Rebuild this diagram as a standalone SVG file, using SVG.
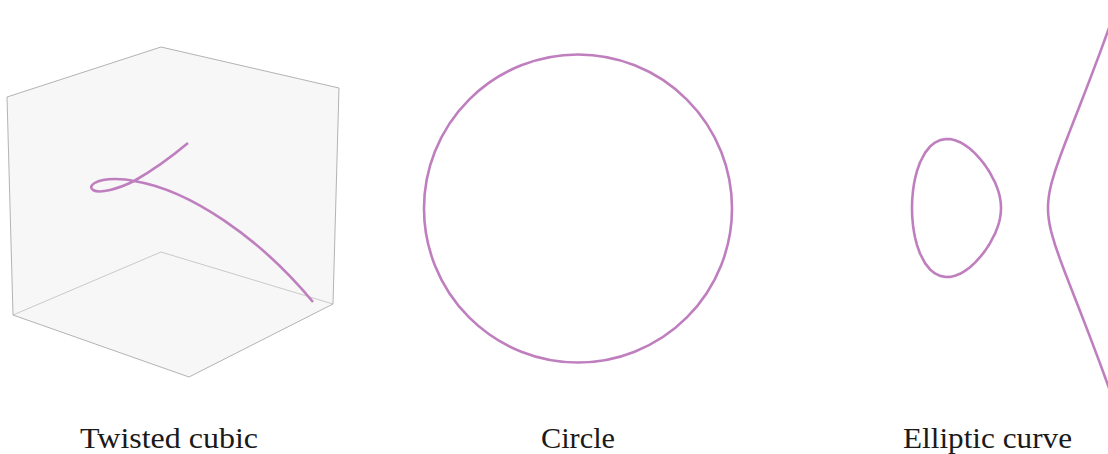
<svg xmlns="http://www.w3.org/2000/svg" width="1108" height="454" viewBox="0 0 1108 454">
<style>
.curve{fill:none;stroke:#bf7fbf;stroke-width:2.6;stroke-linejoin:round;stroke-linecap:butt}
.face{fill:#f7f7f7;stroke:none}
.edge{fill:none;stroke:#aaaaaa;stroke-width:0.9}
.inner{fill:none;stroke:#c4c4c4;stroke-width:0.9}
.label{font-family:"Liberation Serif","Times New Roman",serif;font-size:28.5px;fill:#1a1a1a;text-anchor:middle}
</style>
<rect width="1108" height="454" fill="#ffffff"/>
<g id="twisted-cubic">
<polygon class="face" points="7,97 161,47 339,88 333,304 189,377 13,315"/>
<polyline class="inner" points="13,315 161,252 333,304"/>
<polygon class="edge" points="7,97 161,47 339,88 333,304 189,377 13,315"/>
<path class="curve" d="M188,143 C170,158 150,172 134,181 C118,189 100,194 93,190 C87,186 96,179 115,179 C124,179 130,180 134,181 C190,190 260,238 313,302"/>
<text class="label" x="169" y="448" textLength="178" lengthAdjust="spacingAndGlyphs">Twisted cubic</text>
</g>
<g id="circle">
<circle class="curve" cx="578" cy="208.5" r="154"/>
<text class="label" x="578" y="448" textLength="74" lengthAdjust="spacingAndGlyphs">Circle</text>
</g>
<g id="elliptic-curve">
<polygon class="curve" points="912,208 912.1,202.5 912.3,198.5 913,190.8 914,183.9 915,178.7 917,170.9 920,162.5 925,152.9 930,146.6 935,142.6 940,140.1 946,139 950,139.1 955,140.2 960,142.2 965,145.1 970,148.8 975,153.4 980,158.8 985,165.1 990,172.8 995,182.3 998,190.1 999,193.4 1000,197.7 1000.7,202.4 1000.9,204.8 1001,208 1000.9,211.2 1000.7,213.6 1000,218.3 999,222.6 998,225.9 995,233.7 990,243.2 985,250.9 980,257.2 975,262.6 970,267.2 965,270.9 960,273.8 955,275.8 950,276.9 946,277 940,275.9 935,273.4 930,269.4 925,263.1 920,253.5 917,245.1 915,237.3 914,232.1 913,225.2 912.3,217.5 912.1,213.5"/>
<polyline class="curve" points="1112,19.7 1110,25.2 1105,39 1100,52.6 1095,65.9 1090,79.1 1085,92.1 1080,105 1075,117.8 1070,130.6 1065,143.5 1060,156.9 1055,171.3 1052,181.3 1051,185.2 1050,189.6 1049,195.2 1048.3,201.1 1048.1,204 1048,208 1048.1,212 1048.3,214.9 1049,220.8 1050,226.4 1051,230.8 1052,234.7 1055,244.7 1060,259.1 1065,272.5 1070,285.4 1075,298.2 1080,311 1085,323.9 1090,336.9 1095,350.1 1100,363.4 1105,377 1110,390.8 1112,396.3"/>
<text class="label" x="987.5" y="448" textLength="169" lengthAdjust="spacingAndGlyphs">Elliptic curve</text>
</g>
</svg>
